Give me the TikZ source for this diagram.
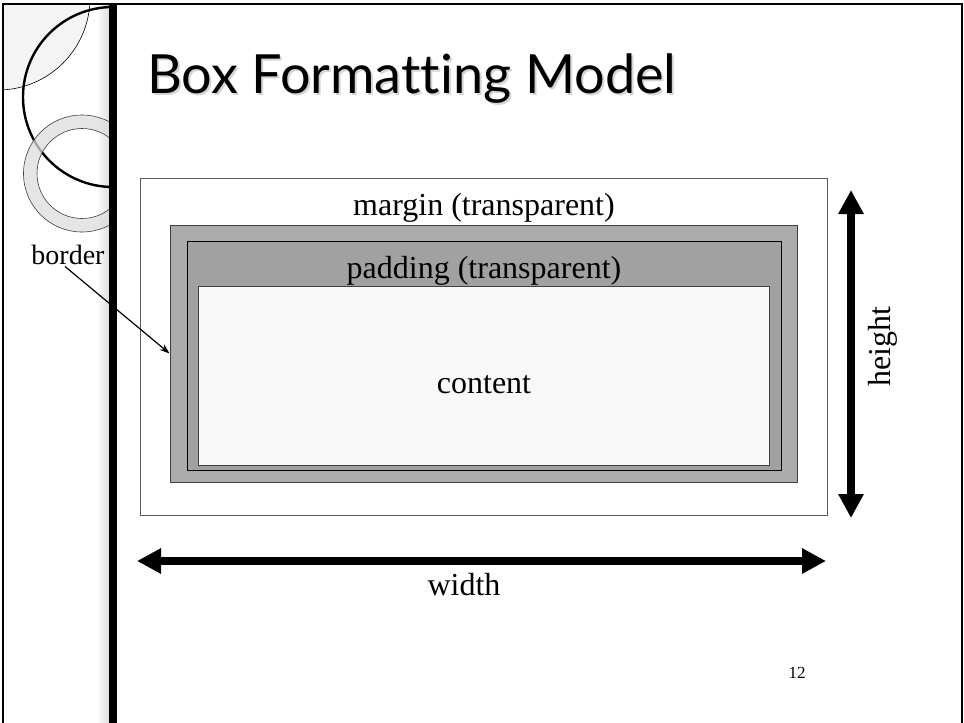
\documentclass[tikz,border=0pt]{standalone}
\usepackage{fontspec}
\setmainfont{Liberation Serif}
\newfontfamily\titlefont[Ligatures={NoCommon,NoRequired}]{Lato}
\usetikzlibrary{arrows.meta}
\definecolor{bordergray}{HTML}{ABABAB}
\definecolor{paddinggray}{HTML}{A1A1A1}
\definecolor{contentgray}{HTML}{F8F8F8}
\definecolor{ringgray}{HTML}{DDDDDD}
\tikzset{
  frameline/.style={draw=black, line width=1.4pt},
  layerbox/.style={rectangle, inner sep=0pt, line width=0.9pt},
  boxlabel/.style={inner sep=0pt, font=\fontsize{32}{36}\selectfont},
  dimarrow/.style={line width=8pt,
    {Triangle[length=24pt,width=24pt]}-{Triangle[length=24pt,width=24pt]}},
  pointer/.style={line width=1.2pt, -{Stealth[length=10pt,width=7pt]}},
  titletext/.style={inner sep=0pt, anchor=base west,
    font=\titlefont\fontsize{54}{58}\selectfont}
}
\begin{document}
\begin{tikzpicture}[x=1pt,y=-1pt]
  \useasboundingbox (0,0) rectangle (964,723);
  \fill[white] (0,0) rectangle (964,723);

  % left ornament panel
  \shade[left color=white, right color=black!14] (96,4) rectangle (110,723);
  \begin{scope}
    \clip (3,4) rectangle (110,723);
    \fill[black!4] (-2,-2) circle (92);
    \draw[line width=0.6pt] (-2,-2) circle (92);
    \draw[line width=2.4pt] (113,97) circle (90);
    \fill[ringgray, opacity=0.75, even odd rule]
      (82,173.5) circle (58.5) (82,173.5) circle (45);
    \draw[black!75, line width=0.6pt] (82,173.5) circle (58.5);
    \draw[black!75, line width=0.6pt] (82,173.5) circle (45);
  \end{scope}

  % slide frame and dividing bar
  \draw[frameline] (3,723) -- (3,4) -- (962,4) -- (962,723);
  \fill[black] (109,4) rectangle (117,723);

  % title with soft drop shadow
  \node[titletext, text=black!30, opacity=0.55] (titleshadow) at (149,95) {Box Formatting Model};
  \node[titletext] (title) at (147,93) {Box Formatting Model};

  % nested boxes
  \node[layerbox, draw=black!65, fill=white, minimum width=687pt, minimum height=337pt]
    (marginbox) at (483.5,346.5) {};
  \node[layerbox, draw=black!75, fill=bordergray, minimum width=627pt, minimum height=257pt]
    (borderbox) at (483.5,353.5) {};
  \node[layerbox, draw=black, fill=paddinggray, minimum width=594pt, minimum height=229pt]
    (paddingbox) at (484,355.5) {};
  \node[layerbox, draw=black!75, fill=contentgray, minimum width=571pt, minimum height=179pt]
    (contentbox) at (483.5,375.5) {};

  % box labels
  \node[boxlabel, anchor=base] (marginlabel) at (484,215) {margin (transparent)};
  \node[boxlabel, anchor=base] (paddinglabel) at (484,278) {padding (transparent)};
  \node[boxlabel, anchor=base] (contentlabel) at (484,393) {content};
  \node[boxlabel, anchor=base] (widthlabel) at (464,595) {width};
  \node[boxlabel, anchor=base, rotate=90] (heightlabel) at (890,347) {height};
  \node[inner sep=0pt, anchor=base, font=\fontsize{28}{32}\selectfont] (borderlabel) at (68,264) {border};
  \node[inner sep=0pt, anchor=base, font=\fontsize{17}{20}\selectfont] (pagenum) at (797,678) {12};

  % dimension arrows
  \coordinate (htop) at (851,190);
  \coordinate (hbottom) at (851,518);
  \coordinate (wleft) at (137,561);
  \coordinate (wright) at (826,561);
  \draw[dimarrow] (htop) -- (hbottom);
  \draw[dimarrow] (wleft) -- (wright);

  % pointer from the border label to the border box
  \draw[pointer] ([xshift=-3pt,yshift=-2pt]borderlabel.south) -- (borderbox.west);
\end{tikzpicture}
\end{document}
